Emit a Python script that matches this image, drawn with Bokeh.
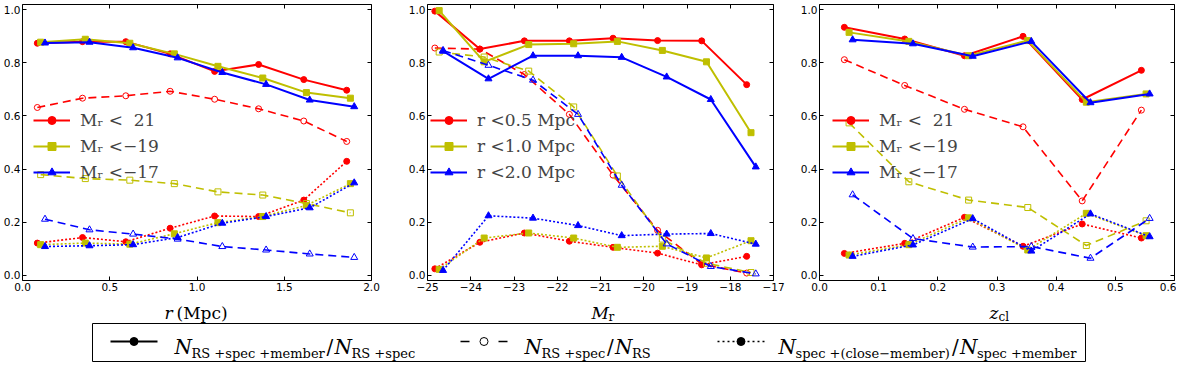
from bokeh.plotting import figure
from bokeh.models import (Range1d, FixedTicker, LinearAxis, Legend, LegendItem,
                          CustomJSTickFormatter)
from bokeh.layouts import column, row
from bokeh.embed import file_html
from bokeh.resources import INLINE
from bokeh.core.properties import value

RED = "#FF0000"
YEL = "#BFBF00"
BLU = "#0000FF"

# ---------------- Panel 1 : r (Mpc) ----------------
p1_x_red = [0.085, 0.344, 0.592, 0.846, 1.101, 1.353, 1.612, 1.858]
p1_x_yel = [0.104, 0.360, 0.615, 0.870, 1.120, 1.377, 1.627, 1.879]
p1_x_blu = [0.129, 0.384, 0.634, 0.889, 1.145, 1.396, 1.646, 1.901]
p1_solid_red = [0.874, 0.880, 0.880, 0.834, 0.768, 0.794, 0.737, 0.697]
p1_solid_yel = [0.878, 0.889, 0.874, 0.834, 0.787, 0.743, 0.688, 0.667]
p1_solid_blu = [0.875, 0.878, 0.857, 0.819, 0.764, 0.719, 0.660, 0.635]
p1_dash_red = [0.632, 0.667, 0.676, 0.693, 0.663, 0.627, 0.581, 0.504]
p1_dash_yel = [0.379, 0.364, 0.358, 0.345, 0.314, 0.302, 0.270, 0.235]
p1_dash_blu = [0.211, 0.171, 0.155, 0.136, 0.108, 0.095, 0.080, 0.067]
p1_dot_red = [0.121, 0.142, 0.126, 0.177, 0.223, 0.221, 0.283, 0.429]
p1_dot_yel = [0.115, 0.121, 0.117, 0.156, 0.198, 0.221, 0.263, 0.345]
p1_dot_blu = [0.108, 0.111, 0.115, 0.142, 0.196, 0.221, 0.254, 0.348]
p1_xticks = [0.0, 0.5, 1.0, 1.5, 2.0]
p1_xtick_labels = ["0.0", "0.5", "1.0", "1.5", "2.0"]
p1_legend = ["M\u1d63 <  21", "M\u1d63 <\u221219", "M\u1d63 <\u221217"]

# ---------------- Panel 2 : M_r ----------------
p2_x_red = [-24.83, -23.79, -22.76, -21.72, -20.71, -19.68, -18.66, -17.62]
p2_x_yel = [-24.73, -23.69, -22.66, -21.62, -20.61, -19.57, -18.55, -17.52]
p2_x_blu = [-24.64, -23.59, -22.56, -21.52, -20.51, -19.47, -18.45, -17.41]
p2_solid_red = [0.995, 0.852, 0.883, 0.883, 0.893, 0.884, 0.883, 0.718]
p2_solid_yel = [0.997, 0.804, 0.869, 0.872, 0.881, 0.847, 0.804, 0.537]
p2_solid_blu = [0.844, 0.740, 0.827, 0.827, 0.821, 0.747, 0.662, 0.408]
p2_dash_red = [0.856, 0.852, 0.756, 0.606, 0.377, 0.169, 0.042, 0.008]
p2_dash_yel = [0.841, 0.822, 0.769, 0.634, 0.374, 0.136, 0.045, 0.010]
p2_dash_blu = [0.847, 0.791, 0.735, 0.606, 0.339, 0.118, 0.033, 0.005]
p2_dot_red = [0.024, 0.124, 0.159, 0.128, 0.105, 0.083, 0.039, 0.071]
p2_dot_yel = [0.022, 0.140, 0.159, 0.140, 0.105, 0.109, 0.065, 0.130]
p2_dot_blu = [0.018, 0.224, 0.215, 0.187, 0.149, 0.155, 0.157, 0.117]
p2_xticks = [-25, -24, -23, -22, -21, -20, -19, -18, -17]
p2_xtick_labels = ["\u221225", "\u221224", "\u221223", "\u221222", "\u221221",
                   "\u221220", "\u221219", "\u221218", "\u221217"]
p2_legend = ["r <0.5 Mpc", "r <1.0 Mpc", "r <2.0 Mpc"]

# ---------------- Panel 3 : z_cl ----------------
p3_x_red = [0.042, 0.144, 0.245, 0.344, 0.444, 0.544]
p3_x_yel = [0.050, 0.151, 0.252, 0.352, 0.451, 0.552]
p3_x_blu = [0.056, 0.158, 0.259, 0.358, 0.458, 0.558]
p3_solid_red = [0.934, 0.890, 0.827, 0.900, 0.662, 0.772]
p3_solid_yel = [0.915, 0.881, 0.827, 0.884, 0.652, 0.683]
p3_solid_blu = [0.887, 0.872, 0.825, 0.881, 0.650, 0.683]
p3_dash_red = [0.812, 0.715, 0.625, 0.559, 0.280, 0.622]
p3_dash_yel = [0.574, 0.352, 0.283, 0.255, 0.112, 0.205]
p3_dash_blu = [0.303, 0.138, 0.106, 0.108, 0.064, 0.214]
p3_dot_red = [0.082, 0.120, 0.218, 0.109, 0.193, 0.140]
p3_dot_yel = [0.076, 0.115, 0.216, 0.095, 0.233, 0.149]
p3_dot_blu = [0.071, 0.114, 0.213, 0.091, 0.231, 0.145]
p3_xticks = [0.0, 0.1, 0.2, 0.3, 0.4, 0.5, 0.6]
p3_xtick_labels = ["0.0", "0.1", "0.2", "0.3", "0.4", "0.5", "0.6"]
p3_legend = ["M\u1d63 <  21", "M\u1d63 <\u221219", "M\u1d63 <\u221217"]

yticks = [0.0, 0.2, 0.4, 0.6, 0.8, 1.0]
ytick_labels = ["0.0", "0.2", "0.4", "0.6", "0.8", "1.0"]

TICK_FONT = "DejaVu Sans"
SERIF = "DejaVu Serif"

FMT_CODE = """
let best = 0;
for (let i = 0; i < vals.length; i++) {
  if (Math.abs(vals[i] - tick) < Math.abs(vals[best] - tick)) best = i;
}
return labs[best];
"""


def fmt(vals, labs):
    return CustomJSTickFormatter(args=dict(vals=vals, labs=labs), code=FMT_CODE)


def style_axis(ax, ticks, labs, show_labels):
    ax.ticker = FixedTicker(ticks=ticks)
    ax.axis_line_color = None
    ax.major_tick_in = 4
    ax.major_tick_out = 0
    ax.major_tick_line_color = "black"
    ax.minor_tick_line_color = None
    if show_labels:
        ax.formatter = fmt(ticks, labs)
        ax.major_label_text_font = TICK_FONT
        ax.major_label_text_font_size = "10.5px"
        ax.major_label_text_color = "black"
        ax.major_label_standoff = 2
    else:
        ax.formatter = CustomJSTickFormatter(code="return ''")
        ax.major_label_text_font_size = "0px"
        ax.major_label_standoff = 0


def make_panel(xr, xticks, xlabs, width, left, right, series, labels, loc):
    p = figure(width=width, height=298, x_range=Range1d(*xr),
               y_range=Range1d(-0.02, 1.02), toolbar_location=None,
               output_backend="svg", min_border_left=left,
               min_border_right=right, min_border_top=4, min_border_bottom=18)
    p.xgrid.visible = False
    p.ygrid.visible = False
    p.outline_line_color = "black"
    p.outline_line_width = 1
    p.outline_line_alpha = 1
    style_axis(p.xaxis[0], xticks, xlabs, True)
    style_axis(p.yaxis[0], yticks, ytick_labels, True)
    top = LinearAxis()
    style_axis(top, xticks, xlabs, False)
    p.add_layout(top, "above")
    rgt = LinearAxis()
    style_axis(rgt, yticks, ytick_labels, False)
    p.add_layout(rgt, "right")

    items = []
    for (xs, solid, dashed, dotted, color, marker, size), lab in zip(series, labels):
        l1 = p.line(xs, solid, line_color=color, line_width=2)
        m1 = p.scatter(xs, solid, marker=marker, size=size, fill_color=color,
                       line_color=color)
        p.line(xs, dashed, line_color=color, line_width=1.6, line_dash="8 5")
        p.scatter(xs, dashed, marker=marker, size=size, fill_color=None,
                  line_color=color, line_width=1)
        p.line(xs, dotted, line_color=color, line_width=1.6, line_dash="2 2")
        p.scatter(xs, dotted, marker=marker, size=size, fill_color=color,
                  line_color=color)
        items.append(LegendItem(label=lab, renderers=[l1, m1]))
    leg = Legend(items=items, location=loc, background_fill_alpha=0,
                 border_line_alpha=0, label_text_font=SERIF,
                 label_text_font_size="17px", glyph_width=37, glyph_height=20,
                 label_height=20, spacing=6, padding=0, margin=0,
                 label_standoff=10)
    p.add_layout(leg)
    return p


p1 = make_panel((0.0, 2.0), p1_xticks, p1_xtick_labels, 392, 19, 21, [
    (p1_x_red, p1_solid_red, p1_dash_red, p1_dot_red, RED, "circle", 6),
    (p1_x_yel, p1_solid_yel, p1_dash_yel, p1_dot_yel, YEL, "square", 6),
    (p1_x_blu, p1_solid_blu, p1_dash_blu, p1_dot_blu, BLU, "triangle", 7),
], p1_legend, (11, 98))

p2 = make_panel((-25, -17), p2_xticks, p2_xtick_labels, 400, 35, 19, [
    (p2_x_red, p2_solid_red, p2_dash_red, p2_dot_red, RED, "circle", 6),
    (p2_x_yel, p2_solid_yel, p2_dash_yel, p2_dot_yel, YEL, "square", 6),
    (p2_x_blu, p2_solid_blu, p2_dash_blu, p2_dot_blu, BLU, "triangle", 7),
], p2_legend, (3, 98))

p3 = make_panel((0.0, 0.6), p3_xticks, p3_xtick_labels, 384, 27, 2, [
    (p3_x_red, p3_solid_red, p3_dash_red, p3_dot_red, RED, "circle", 6),
    (p3_x_yel, p3_solid_yel, p3_dash_yel, p3_dot_yel, YEL, "square", 6),
    (p3_x_blu, p3_solid_blu, p3_dash_blu, p3_dot_blu, BLU, "triangle", 7),
], p3_legend, (13, 98))

# ---------------- bottom strip: x labels + shared legend ----------------
BW, BH = 1176, 64
TOP_Y = 306
pb = figure(width=BW, height=BH, x_range=Range1d(0, BW), y_range=Range1d(0, BH),
            toolbar_location=None, output_backend="svg", x_axis_type=None,
            y_axis_type=None, min_border=0)
pb.xgrid.visible = False
pb.ygrid.visible = False
pb.outline_line_color = None


def px(x):  # page x -> strip x
    return x - 8


def py(y):  # page y -> strip y
    return TOP_Y + BH - y


def txt(x, y, s, size, italic=False):
    pb.text(x=[px(x)], y=[py(y)], text=[s], text_font=value(SERIF),
            text_font_size=size, text_font_style="italic" if italic else "normal",
            text_baseline="alphabetic", text_align="left", text_color="black")


# x-axis labels
txt(172, 320, "r", "17px", True)
txt(184, 320, "(Mpc)", "17px")
txt(599, 320, "M", "17px", True)
txt(616, 324, "r", "12px")
txt(997, 320, "z", "17px", True)
txt(1006, 324, "cl", "12px")

# legend box
pb.quad(left=[px(100)], right=[px(1093)], bottom=[py(369)], top=[py(331)],
        fill_alpha=0, line_color="black", line_width=1)

HY = 349
# handles
pb.line([px(118), px(165)], [py(HY), py(HY)], line_color="black", line_width=2)
pb.scatter([px(141.5)], [py(HY)], marker="circle", size=8, fill_color="black",
           line_color="black")
pb.line([px(468), px(515)], [py(HY), py(HY)], line_color="black", line_width=1.6,
        line_dash="9 29")
pb.scatter([px(491.5)], [py(HY)], marker="circle", size=8, fill_color=None,
           line_color="black")
pb.line([px(725), px(772)], [py(HY), py(HY)], line_color="black", line_width=1.6,
        line_dash="2 3")
pb.scatter([px(748.5)], [py(HY)], marker="circle", size=8, fill_color="black",
           line_color="black")

NB, SB = 354, 361
BIG, SUB = "20px", "13px"
NW = 17
SLW = 9


def ratio(x0, sub1, w1, sub2):
    txt(x0, NB, "N", BIG, True)
    txt(x0 + NW, SB, sub1, SUB)
    x = x0 + NW + w1
    txt(x + 1, NB, "/", BIG)
    txt(x + SLW, NB, "N", BIG, True)
    txt(x + SLW + NW, SB, sub2, SUB)


ratio(182, "RS +spec +member", 134, "RS +spec")
ratio(532, "RS +spec", 64.5, "RS")
ratio(786, "spec +(close\u2212member)", 155.4, "spec +member")

layout = column(row(p1, p2, p3), pb)
open("out.html", "w").write(file_html(layout, INLINE))
